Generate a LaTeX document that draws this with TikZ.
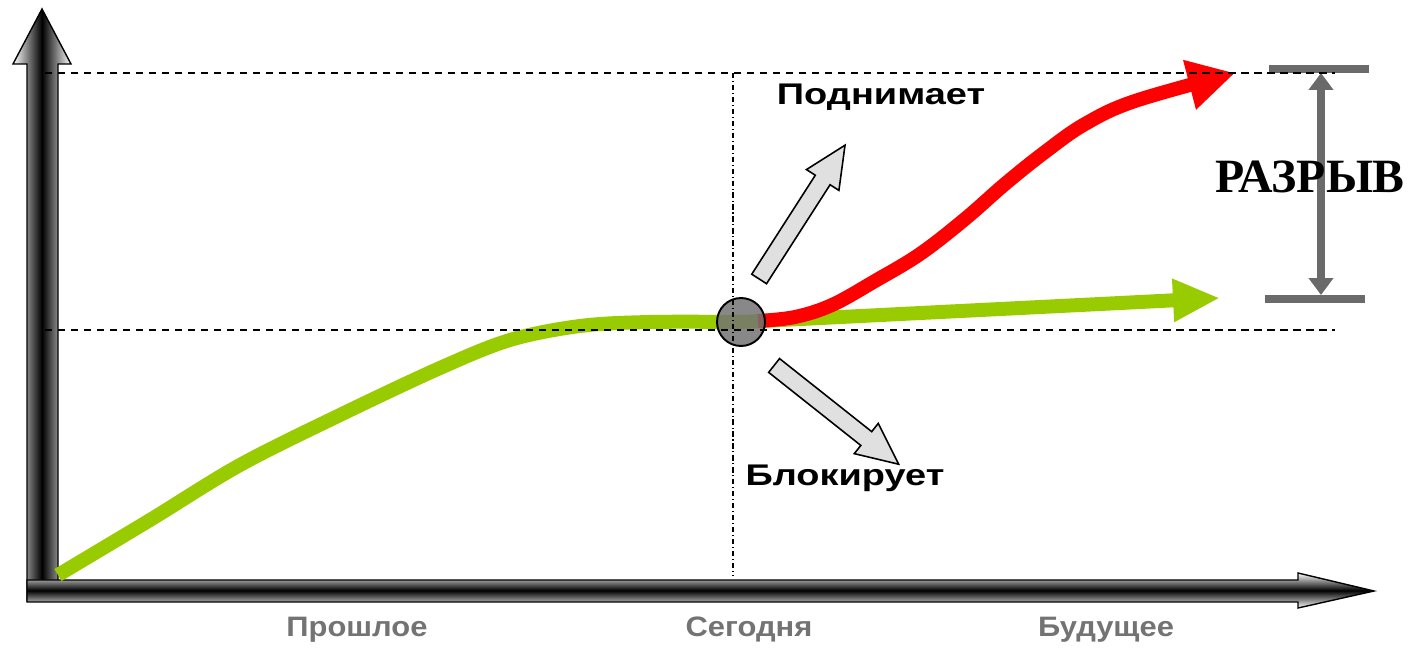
\documentclass[tikz,border=0pt]{standalone}
\usepackage{fontspec}
\setmainfont{Liberation Sans}
\newfontfamily\gapfont{Liberation Serif}
\usetikzlibrary{positioning, arrows.meta, shapes.arrows}

\definecolor{trendgreen}{RGB}{153,204,0}
\definecolor{gapgray}{RGB}{106,106,106}

\begin{document}
\begin{tikzpicture}[x=0.02cm, y=-0.02cm,
    guide/.style={black, line width=0.9pt, dash pattern=on 4.2pt off 3.2pt},
    trend/.style={line width=0.28cm},
    axis/.style={draw=black, line width=0.8pt},
    hub/.style={circle, draw, line width=1.1pt, fill=black!55, fill opacity=0.85, minimum size=0.96cm, inner sep=0pt},
    push/.style={single arrow, draw, line width=0.9pt, fill=black!12, minimum height=3.18cm, inner sep=0.16cm,
                 single arrow head extend=0.21cm, single arrow tip angle=50},
    gapbar/.style={gapgray, line width=0.16cm},
    tag/.style={anchor=base, font=\bfseries\fontsize{17}{20}\selectfont, xscale=1.27},
    era/.style={anchor=base, text=black!55, font=\bfseries\fontsize{16}{19}\selectfont, xscale=1.1}]
    \useasboundingbox (0,0) rectangle (1411,648);

    % axes
    \shade[axis, left color=white, right color=white, middle color=black]
        (27,601) -- (27,64) -- (13,64) -- (42,9) -- (71,64) -- (58,64) -- (58,601) -- cycle;
    \shade[axis, top color=white, bottom color=white, middle color=black]
        (27,580) -- (1298,580) -- (1298,573) -- (1374,591) -- (1298,608) -- (1298,602) -- (27,602) -- cycle;

    \coordinate (start) at (58,575);
    \coordinate (now) at (741,322);
    \coordinate (slowend) at (1220,298);
    \coordinate (fastend) at (1235,73);

    % trends
    \draw[trend, trendgreen, -{Triangle[length=0.94cm, width=0.8cm]}]
        plot[smooth, tension=0.55] coordinates {(start) (150,520) (240,465) (340,415) (440,368) (510,340) (580,326) (650,322) (now)}
        -- (slowend);
    \draw[trend, red, -{Triangle[length=0.94cm, width=0.96cm]}]
        plot[smooth, tension=0.6] coordinates {(758,321) (795,317) (832,305) (875,281) (920,254) (965,219) (1005,184) (1045,152) (1085,124) (1135,101) (fastend)};

    \node[hub] (today) at (now) {};
    \node[push, rotate=57.3] (lift) at (797,220) {};
    \node[push, rotate=-38.4] (block) at (829,409) {};

    % gap
    \coordinate (gaptop) at (1321,69);
    \coordinate (gapbot) at (1321,299);
    \draw[gapbar] ([xshift=-1.04cm]gaptop) -- ([xshift=0.96cm]gaptop);
    \draw[gapbar] ([xshift=-1.12cm]gapbot) -- ([xshift=0.88cm]gapbot);
    \draw[gapbar, {Triangle[length=0.34cm, width=0.48cm]}-{Triangle[length=0.34cm, width=0.48cm]}]
        ([yshift=-0.08cm]gaptop) -- ([yshift=0.08cm]gapbot);

    % guides
    \draw[guide] (45,73) -- (1335,73);
    \draw[guide] (45,330) -- (1335,330);
    \draw[guide, line width=1pt, dash pattern=on 3pt off 1.6pt on 0.6pt off 1.6pt] (733,73) -- (733,575);

    % labels
    \node[font=\gapfont\bfseries\fontsize{27.2}{30}\selectfont] (gap) at (1310,177) {РАЗРЫВ};
    \node[tag] (raiselbl) at (881,105) {Поднимает};
    \node[tag] (blocklbl) at (845,486) {Блокирует};
    \node[era] (past) at (357,637) {Прошлое};
    \node[era] (present) at (749,637) {Сегодня};
    \node[era] (future) at (1106,637) {Будущее};
\end{tikzpicture}
\end{document}
